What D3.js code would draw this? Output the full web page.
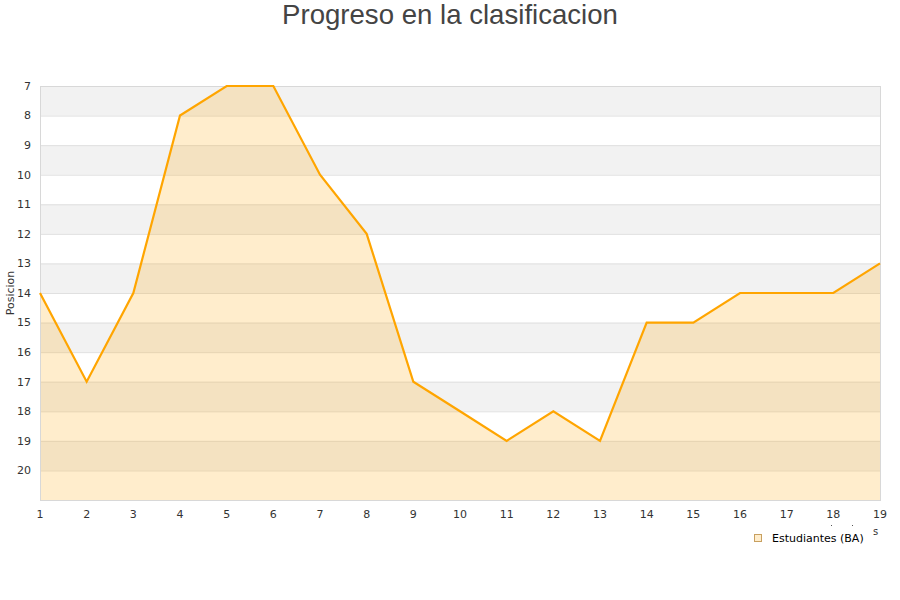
<!DOCTYPE html>
<html><head><meta charset="utf-8">
<script src="https://cdn.jsdelivr.net/npm/d3@7"></script>
<style>body{margin:0;background:#fff}svg{display:block}</style>
</head><body>
<script>
const rounds = [1,2,3,4,5,6,7,8,9,10,11,12,13,14,15,16,17,18,19];
const positions = [14,17,14,8,7,7,10,12,17,18,19,18,19,15,15,14,14,14,13];
const yTicks = [7,8,9,10,11,12,13,14,15,16,17,18,19,20];
const seriesName = "Estudiantes (BA)";
const titleText = "Progreso en la clasificacion";
const yTitle = "Posicion";

const W = 900, H = 600;
const svg = d3.select("body").append("svg").attr("width", W).attr("height", H);
const x = d3.scaleLinear().domain([1,19]).range([40,880]);
const y = d3.scaleLinear().domain([7,21]).range([86,500]);

// bands
const bands = yTicks.filter(v => v % 2 === 1);
svg.append("g").selectAll("rect").data(bands).join("rect")
  .attr("x", x(1)).attr("width", x(19)-x(1))
  .attr("y", d => y(d)).attr("height", d => y(d+1)-y(d))
  .attr("fill", "#f2f2f2");

// grid
svg.append("g").selectAll("line").data(yTicks.concat([21])).join("line")
  .attr("x1", x(1)).attr("x2", x(19))
  .attr("y1", d => y(d)+0.5).attr("y2", d => y(d)+0.5)
  .attr("stroke", "#e0e0e0").attr("stroke-width", 1);

// area
const pts = rounds.map((r,i) => [r, positions[i]]);
svg.append("path").datum(pts)
  .attr("d", d3.area().x(d => x(d[0])).y0(y(21)).y1(d => y(d[1])))
  .attr("fill", "rgba(255,165,0,0.2)");

// border
svg.append("rect").attr("x", x(1)+0.5).attr("y", y(7)+0.5)
  .attr("width", x(19)-x(1)).attr("height", y(21)-y(7))
  .attr("fill", "none").attr("stroke", "#d8d8d8");

// line
svg.append("path").datum(pts)
  .attr("d", d3.line().x(d => x(d[0])).y(d => y(d[1])))
  .attr("fill", "none").attr("stroke", "#ffa500").attr("stroke-width", 2.2);

// y labels
svg.append("g").selectAll("text").data(yTicks).join("text")
  .attr("x", 31).attr("y", d => y(d)).attr("dy", "0.35em")
  .attr("text-anchor", "end")
  .attr("font-family", "DejaVu Sans").attr("font-size", 11).attr("fill", "#333")
  .text(d => d);

// x labels
svg.append("g").selectAll("text").data(rounds).join("text")
  .attr("x", d => x(d)).attr("y", 518)
  .attr("text-anchor", "middle")
  .attr("font-family", "DejaVu Sans").attr("font-size", 11).attr("fill", "#333")
  .text(d => d);

// title
svg.append("text").attr("x", 450).attr("y", 24).attr("text-anchor", "middle")
  .attr("font-family", "Liberation Sans, Arial").attr("font-size", 27.6).attr("fill", "#444")
  .text(titleText);

// y title
svg.append("text").attr("transform", "translate(14,293) rotate(-90)")
  .attr("text-anchor", "middle")
  .attr("font-family", "DejaVu Sans").attr("font-size", 11).attr("fill", "#333")
  .text(yTitle);

// clipped x-axis title remnants
svg.append("rect").attr("x", 831).attr("y", 525).attr("width", 1).attr("height", 1).attr("fill", "#555");
svg.append("rect").attr("x", 852).attr("y", 525).attr("width", 1).attr("height", 1).attr("fill", "#555");
svg.append("text").attr("x", 873).attr("y", 535).attr("font-family","DejaVu Sans").attr("font-size",10).attr("fill","#333").text("s");

// legend
const lg = svg.append("g");
lg.append("rect").attr("x", 754.5).attr("y", 534.5).attr("width", 7).attr("height", 7)
  .attr("fill", "#ffedcc").attr("stroke", "#c8a060");
lg.append("text").attr("x", 772).attr("y", 542)
  .attr("font-family", "DejaVu Sans").attr("font-size", 11).attr("fill", "#000")
  .text(seriesName);
</script>
</body></html>
